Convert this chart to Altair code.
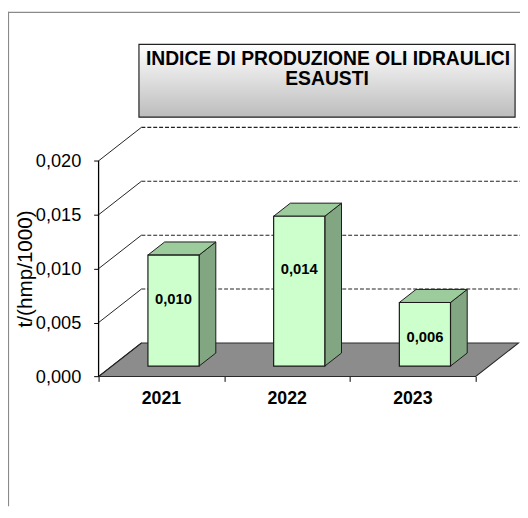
import altair as alt
import pandas as pd

# ---------------- data ----------------
years = ["2021", "2022", "2023"]
values = [0.0103, 0.0139, 0.0059]
y_ticks = [0.000, 0.005, 0.010, 0.015, 0.020]
x_ticks = [0, 1, 2, 3]
title_lines = ["INDICE DI PRODUZIONE OLI IDRAULICI", "ESAUSTI"]
y_title = "t/(hmp/1000)"

# ---------------- layout ----------------
FONT = "Liberation Sans, Arial, sans-serif"
W, H = 520, 502
X0, UX = 92.0, 383.0 / 3          # pixel of x=0 and pixels per category
Y0, UY = 370.3, 219.0 / 0.02      # pixel of value 0 and pixels per unit
x_dom = [-X0 / UX, (W - X0) / UX]
y_dom = [-(H - Y0) / UY, Y0 / UY]
DX, DY = 43.5 / UX, 34.0 / UY     # full depth of the 3D box
F0, F1 = 0.31, 0.70               # bar depth (front / back fraction)
BL, BR = 0.287, 0.694             # bar left/right inside category

xs = alt.Scale(domain=x_dom, nice=False, zero=False)
ys = alt.Scale(domain=y_dom, nice=False, zero=False)

x_axis = alt.Axis(values=x_ticks, labels=False, domain=False, grid=False, tickSize=5,
                  tickColor="black", tickWidth=1, title=None, orient="bottom",
                  offset=-(H - Y0))
y_axis = alt.Axis(values=y_ticks, orient="left", offset=-X0, domain=False, grid=False,
                  tickSize=5, tickColor="black", tickWidth=1, title=None,
                  labelExpr="replace(format(datum.value, '.3f'), '.', ',')",
                  labelFont=FONT, labelFontSize=18.5, labelColor="black", labelPadding=13)


def X(f):
    return alt.X(f, type="quantitative", scale=xs, axis=x_axis)


def Y(f):
    return alt.Y(f, type="quantitative", scale=ys, axis=y_axis)


one = pd.DataFrame({"a": [0]})
ncat = len(years)

# ---------------- tables ----------------
floor_df = pd.DataFrame({
    "Y": [0.0, DY],
    "xl": [0.0, DX],
    "xr": [float(ncat), ncat + DX],
})
diag_df = pd.DataFrame({
    "x": [0.0] * len(y_ticks), "y": y_ticks,
    "x2": [DX] * len(y_ticks), "y2": [v + DY for v in y_ticks],
})
grid_df = pd.DataFrame({
    "x": [DX] * (len(y_ticks) - 1),
    "x2": [x_dom[1]] * (len(y_ticks) - 1),
    "y": [v + DY for v in y_ticks[1:]],
})
axis_df = pd.DataFrame({"x": [0.0], "y0": [y_ticks[0]], "y1": [y_ticks[-1]]})

front_rows, side_rows, top_rows, lab_rows, year_rows = [], [], [], [], []
for i, (yr, v) in enumerate(zip(years, values)):
    front_rows.append({"year": yr, "fl": i + BL + F0 * DX, "fr": i + BR + F0 * DX,
                       "base": F0 * DY, "top": v + F0 * DY})
    for F in (F0, F1):
        side_rows.append({"year": yr, "x": i + BR + F * DX, "lo": F * DY, "hi": v + F * DY})
        top_rows.append({"year": yr, "Y": v + F * DY, "xl": i + BL + F * DX, "xr": i + BR + F * DX})
    lab_rows.append({"x": i + (BL + BR) / 2 + F0 * DX, "y": 0.79 * v - 0.001,
                     "t": f"{v:.3f}".replace(".", ",")})
    year_rows.append({"x": i + 0.5, "y": 0.0, "t": yr})

front_df = pd.DataFrame(front_rows)
side_df = pd.DataFrame(side_rows)
top_df = pd.DataFrame(top_rows)
lab_df = pd.DataFrame(lab_rows)
year_df = pd.DataFrame(year_rows)

# ---------------- marks ----------------
frame_left = alt.Chart(one).mark_rule(color="#8a8a8a", strokeWidth=1.2).encode(
    x=alt.value(0.5), y=alt.value(0), y2=alt.value(H))
frame_top = alt.Chart(one).mark_rule(color="#8a8a8a", strokeWidth=1.2).encode(
    y=alt.value(0.5), x=alt.value(0), x2=alt.value(W))

title_box = alt.Chart(one).mark_rect(
    fill=alt.LinearGradient(gradient="linear",
                            stops=[alt.GradientStop(color="#ffffff", offset=0),
                                   alt.GradientStop(color="#bcbcbc", offset=1)],
                            x1=0, x2=0, y1=0, y2=1),
    stroke="#222222", strokeWidth=1.2,
).encode(x=alt.value(133), x2=alt.value(515), y=alt.value(33), y2=alt.value(107))

title1 = alt.Chart(one).mark_text(font=FONT, fontSize=19.6, fontWeight="bold", color="black",
                                  align="center", baseline="middle").encode(
    x=alt.value(325), y=alt.value(48), text=alt.value(title_lines[0]))
title2 = alt.Chart(one).mark_text(font=FONT, fontSize=19.6, fontWeight="bold", color="black",
                                  align="center", baseline="middle").encode(
    x=alt.value(324), y=alt.value(68.5), text=alt.value(title_lines[1]))

floor = alt.Chart(floor_df).mark_area(orient="horizontal", fill="#8c8c8c",
                                      stroke="#2a2a2a", strokeWidth=1.1).encode(
    y=Y("Y"), x=X("xl"), x2=alt.X2("xr"))

diag = alt.Chart(diag_df).mark_rule(color="#222222", strokeWidth=1).encode(
    x=X("x"), y=Y("y"), x2=alt.X2("x2"), y2=alt.Y2("y2"))

grid = alt.Chart(grid_df).mark_rule(color="#222222", strokeWidth=1.1, strokeDash=[4, 2]).encode(
    x=X("x"), x2=alt.X2("x2"), y=Y("y"))

axis_line = alt.Chart(axis_df).mark_rule(color="black", strokeWidth=1.3).encode(
    x=X("x"), y=Y("y0"), y2=alt.Y2("y1"))

side = alt.Chart(side_df).mark_area(orient="vertical", fill="#82a582",
                                    stroke="#1a1a1a", strokeWidth=1).encode(
    x=X("x"), y=Y("lo"), y2=alt.Y2("hi"), detail="year:N")
top = alt.Chart(top_df).mark_area(orient="horizontal", fill="#9ccb9c",
                                  stroke="#1a1a1a", strokeWidth=1).encode(
    y=Y("Y"), x=X("xl"), x2=alt.X2("xr"), detail="year:N")
front = alt.Chart(front_df).mark_rect(fill="#ccffcc", stroke="#1a1a1a", strokeWidth=1.2).encode(
    x=X("fl"), x2=alt.X2("fr"), y=Y("base"), y2=alt.Y2("top"))

labels = alt.Chart(lab_df).mark_text(font=FONT, fontSize=15, fontWeight="bold", color="black",
                                     align="center", baseline="middle").encode(
    x=X("x"), y=Y("y"), text="t:N")
year_labels = alt.Chart(year_df).mark_text(font=FONT, fontSize=18, fontWeight="bold",
                                           color="black", align="center",
                                           baseline="middle", dy=23).encode(
    x=X("x"), y=Y("y"), text="t:N")

ytitle = alt.Chart(one).mark_text(font=FONT, fontSize=21, color="black", angle=270,
                                  align="center", baseline="middle").encode(
    x=alt.value(18), y=alt.value(261), text=alt.value(y_title))

chart = alt.layer(
    frame_left, frame_top, title_box, title1, title2,
    floor, diag, grid, axis_line, side, top, front, labels, year_labels, ytitle,
).properties(
    width=W, height=H, padding=0,
    autosize=alt.AutoSizeParams(type="none"),
    background="white",
).configure_view(stroke=None)

chart.save("out.html", embed_options={"renderer": "svg", "actions": False})
